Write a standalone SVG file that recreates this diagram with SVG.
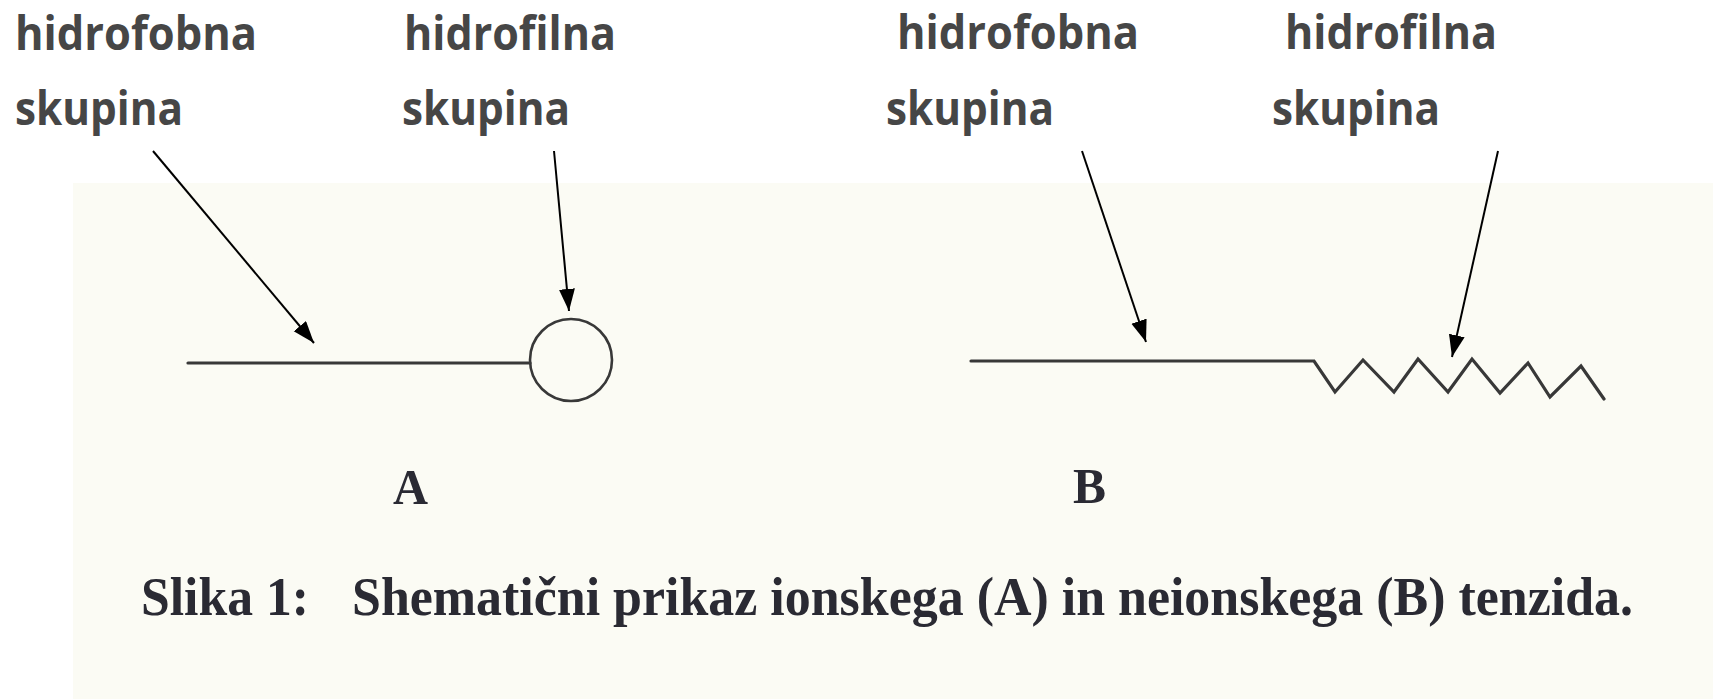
<svg xmlns="http://www.w3.org/2000/svg" width="1713" height="699" viewBox="0 0 1713 699">
<style>
.lbl{font-family:"Open Sans","Liberation Sans",sans-serif;font-weight:700;font-size:46px;fill:#464646}
.cap{font-family:"Liberation Serif","Times New Roman",serif;font-weight:700;fill:#2a2a33}
.mol{fill:none;stroke:#383838;stroke-width:3.2;stroke-linejoin:miter;stroke-linecap:round}
.arr{fill:none;stroke:#000;stroke-width:2;marker-end:url(#ah)}
</style>
<defs>
<marker id="ah" markerUnits="userSpaceOnUse" markerWidth="24" markerHeight="18" refX="22" refY="8" orient="auto">
<path d="M0,0 L22,8 L0,16 z" fill="#000"/>
</marker>
</defs>
<rect x="0" y="0" width="1713" height="699" fill="#ffffff"/>
<rect x="73" y="183" width="1640" height="516" fill="#fbfbf4"/>

<g id="label-hidrofobna-A">
<text class="lbl" x="15" y="50" textLength="242" lengthAdjust="spacingAndGlyphs">hidrofobna</text>
<text class="lbl" x="15" y="125" textLength="168" lengthAdjust="spacingAndGlyphs">skupina</text>
</g>
<g id="label-hidrofilna-A">
<text class="lbl" x="404" y="50" textLength="212" lengthAdjust="spacingAndGlyphs">hidrofilna</text>
<text class="lbl" x="402" y="125" textLength="168" lengthAdjust="spacingAndGlyphs">skupina</text>
</g>
<g id="label-hidrofobna-B">
<text class="lbl" x="897" y="49" textLength="242" lengthAdjust="spacingAndGlyphs">hidrofobna</text>
<text class="lbl" x="886" y="125" textLength="168" lengthAdjust="spacingAndGlyphs">skupina</text>
</g>
<g id="label-hidrofilna-B">
<text class="lbl" x="1285" y="49" textLength="212" lengthAdjust="spacingAndGlyphs">hidrofilna</text>
<text class="lbl" x="1272" y="125" textLength="168" lengthAdjust="spacingAndGlyphs">skupina</text>
</g>

<g id="molecule-A">
<line class="mol" x1="188" y1="363" x2="530" y2="363"/>
<circle cx="571" cy="360" r="41" fill="none" stroke="#383838" stroke-width="2.6"/>
</g>
<g id="molecule-B">
<polyline class="mol" points="971,361 1314,361 1335,392 1363,360 1394,392 1418,359 1448,392 1472,359 1500,393 1528,363 1550,397 1581,366 1604,399"/>
</g>

<g id="connectors">
<line class="arr" x1="153" y1="151" x2="314" y2="343"/>
<line class="arr" x1="554" y1="151" x2="569" y2="311"/>
<line class="arr" x1="1082" y1="151" x2="1146" y2="342"/>
<line class="arr" x1="1498" y1="151" x2="1452" y2="357"/>
</g>

<g id="label-A"><text class="cap" x="393" y="504" font-size="50" textLength="35" lengthAdjust="spacingAndGlyphs">A</text></g>
<g id="label-B"><text class="cap" x="1073" y="503" font-size="50" textLength="33" lengthAdjust="spacingAndGlyphs">B</text></g>

<g id="caption">
<text class="cap" x="141" y="615" font-size="54" textLength="168" lengthAdjust="spacingAndGlyphs">Slika 1:</text>
<text class="cap" x="352" y="615" font-size="54" textLength="1281" lengthAdjust="spacingAndGlyphs">Shematični prikaz ionskega (A) in neionskega (B) tenzida.</text>
</g>
</svg>
